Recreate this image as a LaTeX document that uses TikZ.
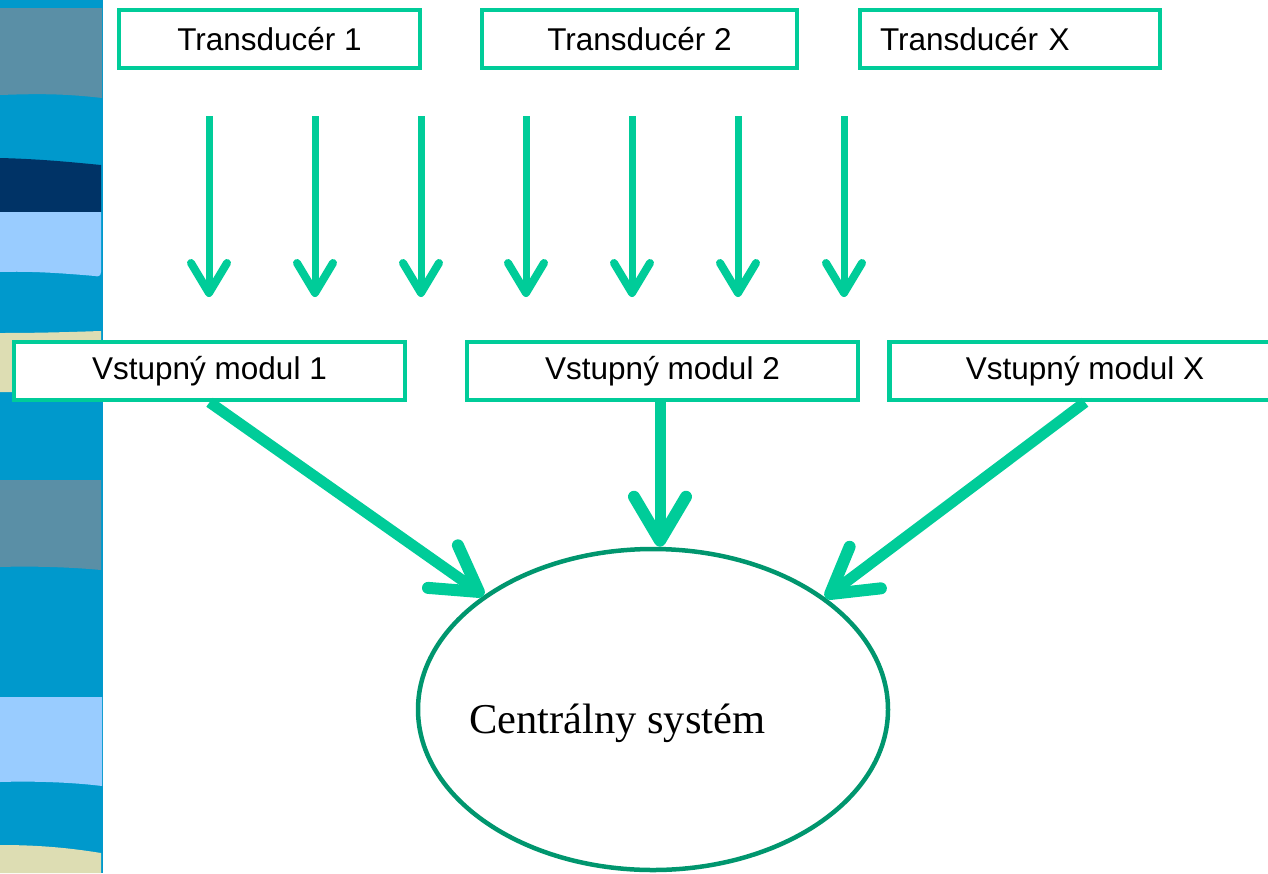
\documentclass[tikz,border=0pt]{standalone}
\usepackage{fontspec}
\setmainfont{Liberation Serif}
\setsansfont{Liberation Sans}
\usetikzlibrary{arrows.meta,shapes.geometric}
\definecolor{grn}{HTML}{00CC99}
\definecolor{dgrn}{HTML}{00966E}
\definecolor{stripeblue}{HTML}{0099CC}
\definecolor{graybl}{HTML}{5A8FA6}
\definecolor{navy}{HTML}{003366}
\definecolor{lightbl}{HTML}{99CCFF}
\definecolor{beige}{HTML}{DDDDB3}
\begin{document}
\begin{tikzpicture}[x=1pt,y=-1pt,
  box/.style={draw=grn, line width=4.5pt, fill=white, minimum height=58pt, inner sep=0pt,
    font=\sffamily\fontsize{31.5}{36}\selectfont},
  thinarrow/.style={draw=grn, line width=7pt, -{Straight Barb[length=30pt,width=36pt,line width=8pt,round]}},
  thickarrow/.style={draw=grn, line width=11pt, -{Straight Barb[length=44pt,width=52pt,line width=12pt,round]}}]
\useasboundingbox (0,0) rectangle (1268,873);
% left stripe
\fill[stripeblue] (0,0) rectangle (103,873);
\fill[graybl] (0,8) -- (102,8) -- (102,98) .. controls (60,93) and (30,94) .. (0,95) -- cycle;
\fill[navy] (0,158) .. controls (40,159) and (70,162) .. (101,165) -- (101,212) -- (0,212) -- cycle;
\fill[lightbl] (0,212) -- (101,212) -- (101,272) .. controls (101,276) and (98,277) .. (95,276) .. controls (60,273) and (30,271) .. (0,272) -- cycle;
\fill[beige] (0,333) .. controls (40,333) and (70,332) .. (101,331) -- (101,392) -- (0,392) -- cycle;
\fill[graybl] (0,480) -- (101,480) -- (101,570) .. controls (70,567) and (30,566) .. (0,567) -- cycle;
\fill[lightbl] (0,697) -- (102,697) -- (102,786) .. controls (70,782) and (30,781) .. (0,782) -- cycle;
\fill[beige] (0,845) .. controls (40,845) and (70,848) .. (101,853) -- (101,873) -- (0,873) -- cycle;
% transducers
\node[box, minimum width=301pt] (t1) at (269.5,39) {Transducér 1};
\node[box, minimum width=315pt] (t2) at (639.5,39) {Transducér 2};
\node[box, text width=260pt, inner xsep=20pt, align=left] (tx) at (1010,39) {Transducér X};
% modules
\node[box, minimum width=391pt] (m1) at (209.5,371) {Vstupný modul 1};
\node[box, minimum width=391pt] (m2) at (662.5,371) {Vstupný modul 2};
\node[box, minimum width=391pt] (mx) at (1085,371) {Vstupný modul X};
% central system
\node[ellipse, draw=dgrn, line width=4.5pt, minimum width=470pt, minimum height=321pt, inner sep=0pt] (cs) at (653,709.5) {};
\node[anchor=base west, inner sep=0pt, font=\rmfamily\fontsize{42.5}{50}\selectfont] (cstext) at (469,733) {Centrálny systém};
% thin arrows
\foreach \i/\x in {1/209,2/315,3/421,4/526,5/632,6/738,7/844}{
  \coordinate (s\i) at (\x,116);
  \coordinate (e\i) at (\x,297);
  \draw[thinarrow] (s\i) -- (e\i);
}
% thick arrows
\draw[thickarrow] (m1.south) -- (cs.146.4);
\draw[thickarrow] (m2.south -| 660,0) -- (cs.north -| 660,0);
\draw[thickarrow] (mx.south) -- (cs.33.2);
\end{tikzpicture}
\end{document}
